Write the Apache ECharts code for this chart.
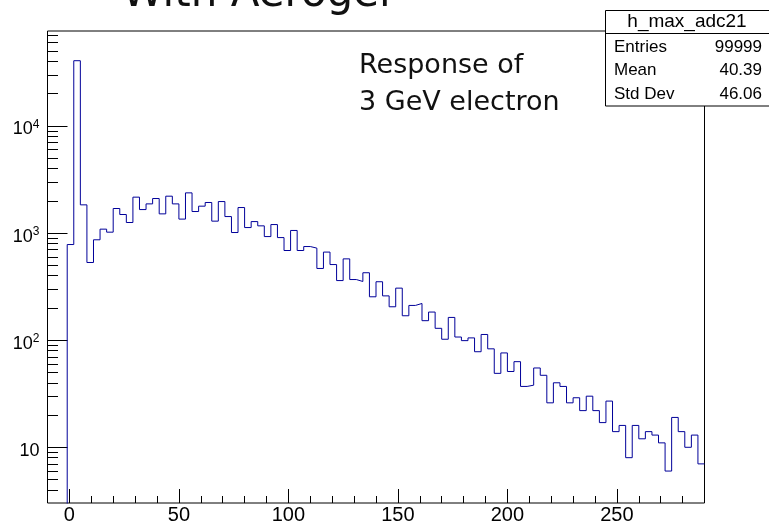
<!DOCTYPE html>
<html><head><meta charset="utf-8">
<script src="https://cdn.jsdelivr.net/npm/echarts@6/dist/echarts.min.js"></script>
<style>html,body{margin:0;padding:0;background:#fff}#c{width:769px;height:526px}</style>
</head><body><div id="c"></div>
<script>
// Histogram h_max_adc21: 100 bins of width 3 from -10 to 290
const binStart = -10;
const binWidth = 3;
const counts = [
  0, 0, 0, 781, 40600, 1833, 531, 865, 1087, 1019,
  1694, 1489, 1254, 2163, 1656, 1871, 2100, 1510, 2208, 1871,
  1349, 2371, 1588, 1782, 1928, 1291, 1967, 1425, 1011, 1730,
  1125, 1279, 1167, 927, 1200, 907, 687, 1057, 687, 748,
  723, 467, 664, 508, 360, 574, 368, 353, 426, 254,
  351, 259, 205, 306, 169, 211, 220, 152, 183, 129,
  102, 163, 107, 99, 105, 78, 113, 83, 49, 76,
  51, 63, 37, 38, 55, 47, 26, 40, 37, 26,
  29, 22, 30, 22, 17, 27, 14, 16, 8, 16,
  12, 14, 13, 11, 6, 19, 14, 10, 13, 7
];
const xMajorTicks = [0, 50, 100, 150, 200, 250];
const xMinorTicks = [10, 20, 30, 40, 60, 70, 80, 90, 110, 120, 130, 140, 160, 170, 180, 190, 210, 220, 230, 240, 260, 270, 280];
const yMajorTicks = [10, 100, 1000, 10000];
const yMinorTicks = [4, 5, 6, 7, 8, 9, 20, 30, 40, 50, 60, 70, 80, 90, 200, 300, 400, 500, 600, 700, 800, 900,
  2000, 3000, 4000, 5000, 6000, 7000, 8000, 9000, 20000, 30000, 40000, 50000, 60000, 70000];
const xRange = [-10, 290];
const yRange = [3.02, 76900];
const histName = 'h_max_adc21';
const statsLabels = ['Entries', 'Mean', 'Std Dev'];
const statsValues = ['99999', '40.39', '46.06'];
const titleText = 'With Aerogel';
const noteLines = ['Response of', '3 GeV electron'];

const L = Math.log10;
const yLogMin = L(yRange[0]), yLogMax = L(yRange[1]);
const pts = counts.map((c, i) => [binStart + i * binWidth, c > 0 ? L(c) : yLogMin - 1]);
pts.push([binStart + counts.length * binWidth, pts[pts.length - 1][1]]);

const chart = echarts.init(document.getElementById('c'), null, {renderer: 'canvas'});
const tickStyle = {color: '#000', width: 1};
const baseX = {type: 'value', min: xRange[0], max: xRange[1], position: 'bottom',
  axisLine: {show: false, onZero: false}, splitLine: {show: false}};
const baseY = {type: 'value', min: yLogMin, max: yLogMax, position: 'left',
  axisLine: {show: false, onZero: false}, splitLine: {show: false}};

const sx = 605.5, sy = 10.5, sw = 164, sh = 95.5;
const graphics = [
  {type: 'text', x: 122, y: -5, style: {text: titleText, font: '42px "DejaVu Sans"', fill: '#111', verticalAlign: 'middle'}},
  {type: 'text', x: 359, y: 66, style: {text: noteLines[0], font: '27px "DejaVu Sans"', fill: '#111', verticalAlign: 'middle'}},
  {type: 'text', x: 359, y: 102.5, style: {text: noteLines[1], font: '27px "DejaVu Sans"', fill: '#111', verticalAlign: 'middle'}},
  {type: 'rect', shape: {x: sx, y: sy, width: sw, height: sh}, style: {fill: '#fff', stroke: '#000', lineWidth: 1}, z: 10},
  {type: 'line', shape: {x1: sx, y1: 33.5, x2: sx + sw, y2: 33.5}, style: {stroke: '#000', lineWidth: 1}, z: 11},
  {type: 'text', x: 687, y: 21.5, style: {text: histName, font: '19px "Liberation Sans"', fill: '#000', align: 'center', verticalAlign: 'middle'}, z: 11}
];
statsLabels.forEach((lab, i) => {
  const yy = 47 + i * 23.5;
  graphics.push({type: 'text', x: 614, y: yy, style: {text: lab, font: '17px "Liberation Sans"', fill: '#000', verticalAlign: 'middle'}, z: 11});
  graphics.push({type: 'text', x: 762, y: yy, style: {text: statsValues[i], font: '17px "Liberation Sans"', fill: '#000', align: 'right', verticalAlign: 'middle'}, z: 11});
});

chart.setOption({
  animation: false,
  backgroundColor: '#fff',
  grid: {left: 47.5, top: 31, width: 657, height: 472, show: true, borderColor: '#000', borderWidth: 1, backgroundColor: 'transparent'},
  xAxis: [
    Object.assign({}, baseX, {
      axisTick: {show: true, inside: true, length: 14, customValues: xMajorTicks, lineStyle: tickStyle},
      axisLabel: {show: true, customValues: xMajorTicks, color: '#000', fontFamily: 'Liberation Sans', fontSize: 20, margin: 2}
    }),
    Object.assign({}, baseX, {
      axisTick: {show: true, inside: true, length: 7, customValues: xMinorTicks, lineStyle: tickStyle},
      axisLabel: {show: false}
    })
  ],
  yAxis: [
    Object.assign({}, baseY, {
      axisTick: {show: true, inside: true, length: 20, customValues: yMajorTicks.map(L), lineStyle: tickStyle},
      axisLabel: {show: true, customValues: yMajorTicks.map(L), margin: 8, color: '#000', padding: [5, 0, 0, 0],
        formatter: v => { const e = Math.round(v); return e === 1 ? '{b|10}' : '{b|10}{s|' + e + '}'; },
        rich: {
          b: {fontFamily: 'Liberation Sans', fontSize: 18, color: '#000', verticalAlign: 'bottom', lineHeight: 20},
          s: {fontFamily: 'Liberation Sans', fontSize: 12, color: '#000', verticalAlign: 'top', lineHeight: 12, padding: [0, 0, 10, 0]}
        }
      }
    }),
    Object.assign({}, baseY, {
      axisTick: {show: true, inside: true, length: 10.5, customValues: yMinorTicks.map(L), lineStyle: tickStyle},
      axisLabel: {show: false}
    })
  ],
  series: [{
    type: 'line', xAxisIndex: 0, yAxisIndex: 0, step: 'end', data: pts, showSymbol: false, symbol: 'none',
    clip: true, lineStyle: {color: '#000099', width: 1}, z: 3
  }],
  graphic: graphics
});
</script></body></html>
